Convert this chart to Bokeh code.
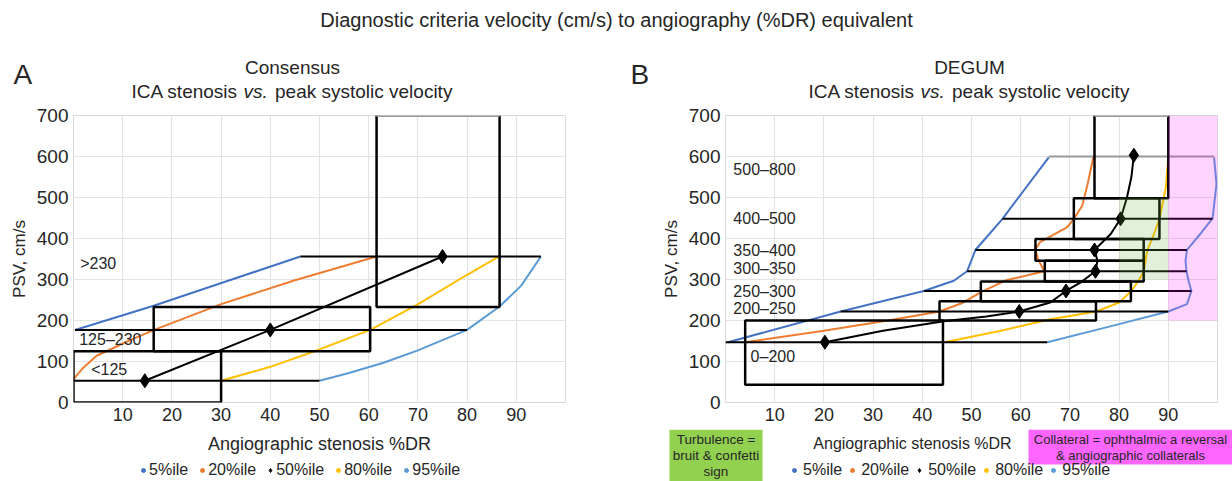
from bokeh.plotting import figure
from bokeh.models import Range1d, FixedTicker, Label, Legend, LegendItem, BoxAnnotation
from bokeh.layouts import column, row
from bokeh.core.properties import value
from bokeh.embed import file_html
from bokeh.resources import INLINE

FONT = "Liberation Sans"
TXT = "#262626"
C5, C20, C50, C80, C95 = "#4472C4", "#ED7D31", "#000000", "#FFC000", "#5B9BD5"

# ---------------- Panel A (Consensus) data ----------------
a_box_left = [0, 16.3, 61.6]
a_box_right = [30, 60.3, 86.6]
a_box_bottom = [0, 125, 233]
a_box_top = [125, 233, 700]
a_hline_y = [53, 177, 356]
a_hline_x0 = [0, 0.3, 46.1]
a_hline_x1 = [50, 80, 95]
a_p5_x = [0.3, 16.3, 46.1]
a_p5_y = [177, 236, 356]
a_p20_x = [0, 2, 4.7, 8.1, 11.5, 16.4, 30, 45, 61.6]
a_p20_y = [57, 85, 114, 133, 152, 177, 240, 298, 356]
a_p50_x = [14.5, 40, 75]
a_p50_y = [53, 177, 356]
a_p80_x = [30, 40, 49, 60.3, 69.8, 78, 86.4]
a_p80_y = [53, 87, 125, 177, 238, 297, 356]
a_p95_x = [50, 56, 63, 70, 80, 86.6, 91, 95]
a_p95_y = [53, 72, 97, 127, 177, 234, 285, 356]
a_range_labels = [">230", "125\u2013230", "<125"]
a_range_x = [1.36, 1.16, 3.6]
a_range_y = [340, 153, 81.5]

# ---------------- Panel B (DEGUM) data ----------------
b_box_left = [4, 43.5, 51.9, 64.9, 63, 70.8, 75]
b_box_right = [44.2, 75.3, 82.4, 85, 85, 88.2, 90]
b_box_bottom = [43, 200, 247, 295, 346, 399, 498]
b_box_top = [200, 247, 295, 346, 399, 498, 700]
b_hline_y = [147, 222, 272, 320, 372, 448]
b_hline_x0 = [0, 23.4, 40.3, 49.1, 50.8, 56.3]
b_hline_x1 = [65.4, 90, 94.7, 93.7, 93.8, 99]
b_cap_y = [600]
b_cap_x0 = [65.7]
b_cap_x1 = [99.3]
b_p5_x = [0.5, 23.4, 40.3, 46.4, 49.1, 49.7, 50.8, 56.3, 65.7]
b_p5_y = [147, 222, 272, 297, 320, 338, 372, 448, 598]
b_p20_x = [4, 20, 33, 43.5, 48, 52, 57, 64.8, 63.5, 63, 64, 69.4, 70.8, 72.5, 73.6, 74.8]
b_p20_y = [147, 175, 200, 222, 242, 270, 298, 320, 350, 374, 392, 427, 448, 480, 533, 600]
b_p50_x = [20.2, 32, 44.4, 53, 59.7, 66, 69.2, 72.2, 75.2, 75.6, 75, 78.3, 80.3, 81.6, 82.5, 83]
b_p50_y = [147, 175, 198, 210, 222, 244, 272, 293, 320, 346, 372, 411, 448, 500, 550, 603]
b_med_x = [20.2, 59.7, 69.2, 75.2, 75, 80.3, 83]
b_med_y = [147, 222, 272, 320, 372, 448, 603]
b_p80_x = [44.5, 56, 66, 75.4, 80, 82.5, 83.7, 85, 85.7, 87.1, 88.2, 89.5, 90]
b_p80_y = [147, 175, 203, 222, 244, 272, 293, 318, 370, 411, 448, 525, 600]
b_p95_x = [65.4, 78, 90, 93.8, 94.7, 94.1, 93.7, 93.5, 93.8, 96.5, 99, 99.8, 99.3]
b_p95_y = [147, 185, 222, 240, 272, 297, 320, 346, 372, 411, 449, 533, 598]
b_range_labels = ["500\u2013800", "400\u2013500", "350\u2013400", "300\u2013350",
                  "250\u2013300", "200\u2013250", "0\u2013200"]
b_range_x = [1.6, 1.6, 1.6, 1.6, 1.6, 1.6, 5.1]
b_range_y = [568, 449, 370, 328, 271, 229.5, 112]
b_turb = [80, 90, 300, 500]       # left, right, bottom, top
b_coll = [90, 100, 200, 700]

x_ticks = [10, 20, 30, 40, 50, 60, 70, 80, 90]
y_ticks = [0, 100, 200, 300, 400, 500, 600, 700]

legend_labels = ["5%ile", "20%ile", "50%ile", "80%ile", "95%ile"]
legend_colors = [C5, C20, C50, C80, C95]
legend_markers = ["circle", "circle", "diamond", "circle", "circle"]

W = 616  # width of each half of the page


def strip(x0, y0, w, h):
    """A plain strip whose data coordinates are page pixels (y downwards)."""
    s = figure(width=w, height=h, x_range=Range1d(x0, x0 + w), y_range=Range1d(y0 + h, y0),
               output_backend="svg", toolbar_location=None, min_border=0,
               x_axis_location=None, y_axis_location=None, outline_line_color=None,
               background_fill_color="white", border_fill_color="white", frame_align=False)
    s.grid.visible = False
    return s


def txt(s, x, y, text, size, align="center", style="normal", color=TXT):
    s.add_layout(Label(x=x, y=y, text=text, text_font=FONT, text_font_size=size,
                       text_font_style=style, text_color=color, text_align=align,
                       text_baseline="middle"))


def make_panel(min_left, min_right):
    p = figure(width=W, height=326, x_range=Range1d(0, 100), y_range=Range1d(0, 700),
               output_backend="svg", toolbar_location=None,
               min_border_left=min_left, min_border_right=min_right,
               min_border_top=12, min_border_bottom=27,
               outline_line_color="#D9D9D9", background_fill_color="white",
               border_fill_color="white", frame_align=False)
    p.xaxis.ticker = FixedTicker(ticks=x_ticks)
    p.yaxis.ticker = FixedTicker(ticks=y_ticks)
    p.xgrid.ticker = FixedTicker(ticks=x_ticks)
    p.ygrid.ticker = FixedTicker(ticks=y_ticks[1:-1])
    p.grid.grid_line_color = "#E3E3E3"
    p.grid.grid_line_width = 1.2
    for ax in (p.xaxis, p.yaxis):
        ax.axis_line_color = None
        ax.major_tick_line_color = None
        ax.minor_tick_line_color = None
        ax.major_tick_in = 0
        ax.major_tick_out = 0
        ax.minor_tick_in = 0
        ax.minor_tick_out = 0
        ax.major_label_text_font = FONT
        ax.major_label_text_color = TXT
        ax.axis_label_text_font = FONT
        ax.axis_label_text_font_style = "normal"
        ax.axis_label_text_color = TXT
    p.xaxis.major_label_text_font_size = "18px"
    p.yaxis.major_label_text_font_size = "19px"
    p.yaxis.major_label_standoff = 5
    p.xaxis.major_label_standoff = 5
    p.yaxis.axis_label = "PSV, cm/s"
    p.yaxis.axis_label_text_font_size = "17px"
    p.yaxis.axis_label_standoff = 5
    return p


def draw_boxes(p, left, right, bottom, top):
    closed = [i for i, t in enumerate(top) if t < 700]
    opened = [i for i, t in enumerate(top) if t >= 700]
    p.quad(left=[left[i] for i in closed], right=[right[i] for i in closed],
           bottom=[bottom[i] for i in closed], top=[top[i] for i in closed],
           fill_color=None, line_color="black", line_width=2.5)
    xs, ys = [], []
    for i in opened:
        xs.append([left[i], left[i], right[i], right[i]])
        ys.append([top[i], bottom[i], bottom[i], top[i]])
    p.multi_line(xs, ys, line_color="black", line_width=2.5)
    p.segment(x0=[left[i] for i in opened], x1=[right[i] for i in opened],
              y0=[top[i] for i in opened], y1=[top[i] for i in opened],
              line_color="#9A9A9A", line_width=3)


def titles(s, cx, letter, letter_x, name):
    txt(s, letter_x, 74, letter, "28px", align="left")
    txt(s, cx, 67, name, "19px")
    start = cx - 161
    txt(s, start + 106.6, 91, "ICA stenosis", "19px", align="right")
    txt(s, start + 111.9, 91, "vs.", "19px", align="left", style="italic")
    txt(s, start + 143.5, 91, "peak systolic velocity", "19px", align="left")


def legend(s, vx, vy, standoff, spacing, series):
    items = []
    for lab, col, mk, (xs, ys) in zip(legend_labels, legend_colors, legend_markers, series):
        # the strip's ranges are page pixels, so these points fall outside its frame
        r = s.scatter(xs, ys, marker=mk, size=6, color=col)
        items.append(LegendItem(label=lab, renderers=[r]))
    s.add_layout(Legend(items=items, orientation="horizontal", location=(vx, vy),
                        border_line_color=None, background_fill_alpha=0, padding=0, margin=0,
                        spacing=spacing, label_standoff=standoff, glyph_width=10,
                        glyph_height=16, label_height=16, label_text_font=FONT,
                        label_text_font_size="16px", label_text_color=TXT))


# ---------------- overall title ----------------
top = strip(0, 0, 2 * W, 40)
txt(top, 616, 19, "Diagnostic criteria velocity (cm/s) to angiography (%DR) equivalent", "20px")

# ---------------- Panel A ----------------
a_top = strip(0, 40, W, 63)
titles(a_top, 292, "A", 13, "Consensus")

pA = make_panel(73, 51)
pA.line(a_p5_x, a_p5_y, line_color=C5, line_width=2)
pA.line(a_p20_x, a_p20_y, line_color=C20, line_width=2)
pA.line(a_p80_x, a_p80_y, line_color=C80, line_width=2)
pA.line(a_p95_x, a_p95_y, line_color=C95, line_width=2)
pA.segment(x0=a_hline_x0, x1=a_hline_x1, y0=a_hline_y, y1=a_hline_y, line_color="black", line_width=2)
draw_boxes(pA, a_box_left, a_box_right, a_box_bottom, a_box_top)
pA.line(a_p50_x, a_p50_y, line_color=C50, line_width=2)
pA.scatter(a_p50_x, a_p50_y, marker="diamond", size=14, color="black")
pA.text(x=a_range_x, y=a_range_y, text=a_range_labels, text_font=value(FONT),
        text_font_size="16px", text_baseline="middle", text_color=TXT)

a_bot = strip(0, 428, W, 53)
txt(a_bot, 319, 442, "Angiographic stenosis %DR", "18px")
legend(a_bot, 138, 3, 1, 9, [(a_p5_x, a_p5_y), (a_p20_x, a_p20_y), (a_p50_x, a_p50_y),
                             (a_p80_x, a_p80_y), (a_p95_x, a_p95_y)])

# ---------------- Panel B ----------------
b_top = strip(W, 40, W, 63)
titles(b_top, 969, "B", 630, "DEGUM")

pB = make_panel(109, 15)
pB.line(b_p5_x, b_p5_y, line_color=C5, line_width=2)
pB.line(b_p20_x, b_p20_y, line_color=C20, line_width=2)
pB.line(b_p80_x, b_p80_y, line_color=C80, line_width=2)
pB.line(b_p95_x, b_p95_y, line_color=C95, line_width=2)
pB.segment(x0=b_hline_x0, x1=b_hline_x1, y0=b_hline_y, y1=b_hline_y, line_color="black", line_width=2)
pB.segment(x0=b_cap_x0, x1=b_cap_x1, y0=b_cap_y, y1=b_cap_y, line_color="#9A9A9A", line_width=2)
draw_boxes(pB, b_box_left, b_box_right, b_box_bottom, b_box_top)
pB.line(b_p50_x, b_p50_y, line_color=C50, line_width=2)
pB.scatter(b_med_x, b_med_y, marker="diamond", size=14, color="black")
pB.quad(left=[b_turb[0]], right=[b_turb[1]], bottom=[b_turb[2]], top=[b_turb[3]],
        fill_color="#70AD47", fill_alpha=0.2, line_color=None)
pB.quad(left=[b_coll[0]], right=[b_coll[1]], bottom=[b_coll[2]], top=[b_coll[3]],
        fill_color="#FF00FF", fill_alpha=0.17, line_color=None)
pB.text(x=b_range_x, y=b_range_y, text=b_range_labels, text_font=value(FONT),
        text_font_size="16px", text_baseline="middle", text_color=TXT)

b_bot = strip(W, 428, W, 53)
b_bot.add_layout(BoxAnnotation(left=669, right=762, top=428, bottom=481,
                               fill_color="#92D050", fill_alpha=1, line_color=None))
b_bot.add_layout(BoxAnnotation(left=1028, right=1232, top=428, bottom=463,
                               fill_color="#FF66FF", fill_alpha=1, line_color=None))
txt(b_bot, 715.5, 438, "Turbulence =", "13.5px")
txt(b_bot, 715.5, 454, "bruit & confetti", "13.5px")
txt(b_bot, 715.5, 470, "sign", "13.5px")
txt(b_bot, 1130, 437.5, "Collateral = ophthalmic a reversal", "13px")
txt(b_bot, 1130, 454, "& angiographic collaterals", "13px")
txt(b_bot, 912, 442, "Angiographic stenosis %DR", "16px")
legend(b_bot, 789 - W, 3, 4, 5, [(b_p5_x, b_p5_y), (b_p20_x, b_p20_y), (b_med_x, b_med_y),
                                 (b_p80_x, b_p80_y), (b_p95_x, b_p95_y)])

layout = column(top,
                row(column(a_top, pA, a_bot), column(b_top, pB, b_bot)))
open("out.html", "w").write(file_html(layout, INLINE))
